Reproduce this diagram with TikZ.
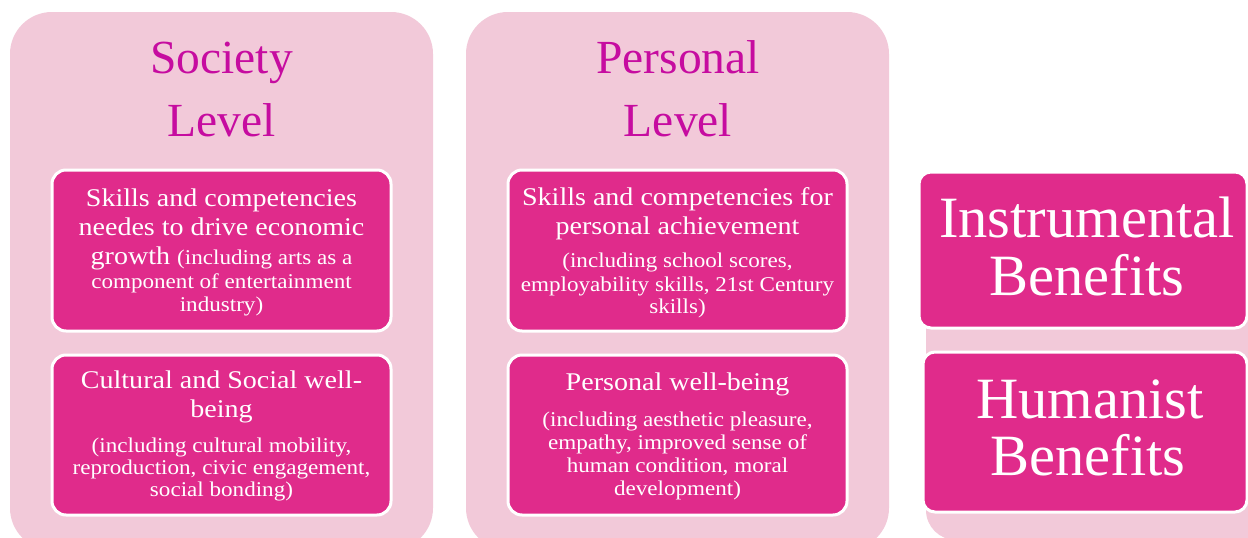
\documentclass[tikz,border=0pt]{standalone}
\usepackage{fontspec}
\setmainfont{Liberation Serif}
\newfontfamily\widefont[FakeStretch=1.1]{Liberation Serif}
\definecolor{bgpink}{HTML}{F2C9D9}
\definecolor{boxmag}{HTML}{E02B8B}
\definecolor{titlemag}{HTML}{C60CA0}
\tikzset{
  panel/.style={fill=bgpink, draw=none, rounded corners=42pt, inner sep=0pt},
  card/.style={fill=boxmag, draw=white, line width=3pt, rounded corners=14pt, inner sep=0pt},
  titleln/.style={text=titlemag, font=\fontsize{47.5}{47.5}\selectfont, anchor=base, inner sep=0pt},
  mainln/.style={text=white, font=\widefont\fontsize{25.5}{25.5}\selectfont, anchor=base, inner sep=0pt},
  subln/.style={text=white, font=\widefont\fontsize{21}{21}\selectfont, anchor=base, inner sep=0pt},
  bigln/.style={text=white, font=\fontsize{58.5}{58.5}\selectfont, anchor=base, inner sep=0pt},
}
\newcommand{\subsz}{\fontsize{21}{21}\selectfont}
\begin{document}
\begin{tikzpicture}[x=1pt, y=-1pt]
\useasboundingbox (0,0) rectangle (1248,538);
\clip (0,0) rectangle (1248,538);
\fill[white] (0,0) rectangle (1248,538);

% panels
\node[panel, minimum width=423pt, minimum height=538pt] (P1) at (221.5,281) {};
\node[panel, minimum width=423pt, minimum height=538pt] (P2) at (677.5,281) {};
\node[panel, rounded corners=30pt, minimum width=374pt, minimum height=340pt] (P3) at (1113,370) {};

% titles
\node[titleln] (T1a) at (221.5,73) {Society};
\node[titleln] (T1b) at (221.5,136) {Level};
\node[titleln] (T2a) at (678,73) {Personal};
\node[titleln] (T2b) at (678,136) {Level};

% cards
\node[card, minimum width=339pt, minimum height=161pt] (C1) at (221.5,250.5) {};
\node[card, minimum width=339pt, minimum height=160pt] (C2) at (221.5,435) {};
\node[card, minimum width=339pt, minimum height=161pt] (C3) at (677.5,250.5) {};
\node[card, minimum width=339pt, minimum height=160pt] (C4) at (677.5,435) {};
\node[card, rounded corners=12pt, minimum width=328pt, minimum height=156pt] (C5) at (1083,250) {};
\node[card, rounded corners=12pt, minimum width=324pt, minimum height=160pt] (C6) at (1085,432) {};

% card 1
\node[mainln] (L11) at (221.5,206) {Skills and competencies};
\node[mainln] (L12) at (221.5,235) {needes to drive economic};
\node[mainln] (L13) at (221.5,264) {growth {\subsz (including arts as a}};
\node[subln] (L14) at (221.5,288.5) {component of entertainment};
\node[subln] (L15) at (221.5,311) {industry)};

% card 2
\node[mainln] (L21) at (221.5,388.5) {Cultural and Social well-};
\node[mainln] (L22) at (221.5,417) {being};
\node[subln] (L23) at (221.5,452) {(including cultural mobility,};
\node[subln] (L24) at (221.5,474) {reproduction, civic engagement,};
\node[subln] (L25) at (221.5,496.5) {social bonding)};

% card 3
\node[mainln] (L31) at (677.5,205.5) {Skills and competencies for};
\node[mainln] (L32) at (677.5,234) {personal achievement};
\node[subln] (L33) at (677.5,267) {(including school scores,};
\node[subln] (L34) at (677.5,291) {employability skills, 21st Century};
\node[subln] (L35) at (677.5,313) {skills)};

% card 4
\node[mainln] (L41) at (677.5,390) {Personal well-being};
\node[subln] (L42) at (677.5,426) {(including aesthetic pleasure,};
\node[subln] (L43) at (677.5,449) {empathy, improved sense of};
\node[subln] (L44) at (677.5,472) {human condition, moral};
\node[subln] (L45) at (677.5,495) {development)};

% right cards
\node[bigln] (L51) at (1087,237) {Instrumental};
\node[bigln] (L52) at (1087,295) {Benefits};
\node[bigln] (L61) at (1090,418) {Humanist};
\node[bigln] (L62) at (1088,475) {Benefits};
\end{tikzpicture}
\end{document}
